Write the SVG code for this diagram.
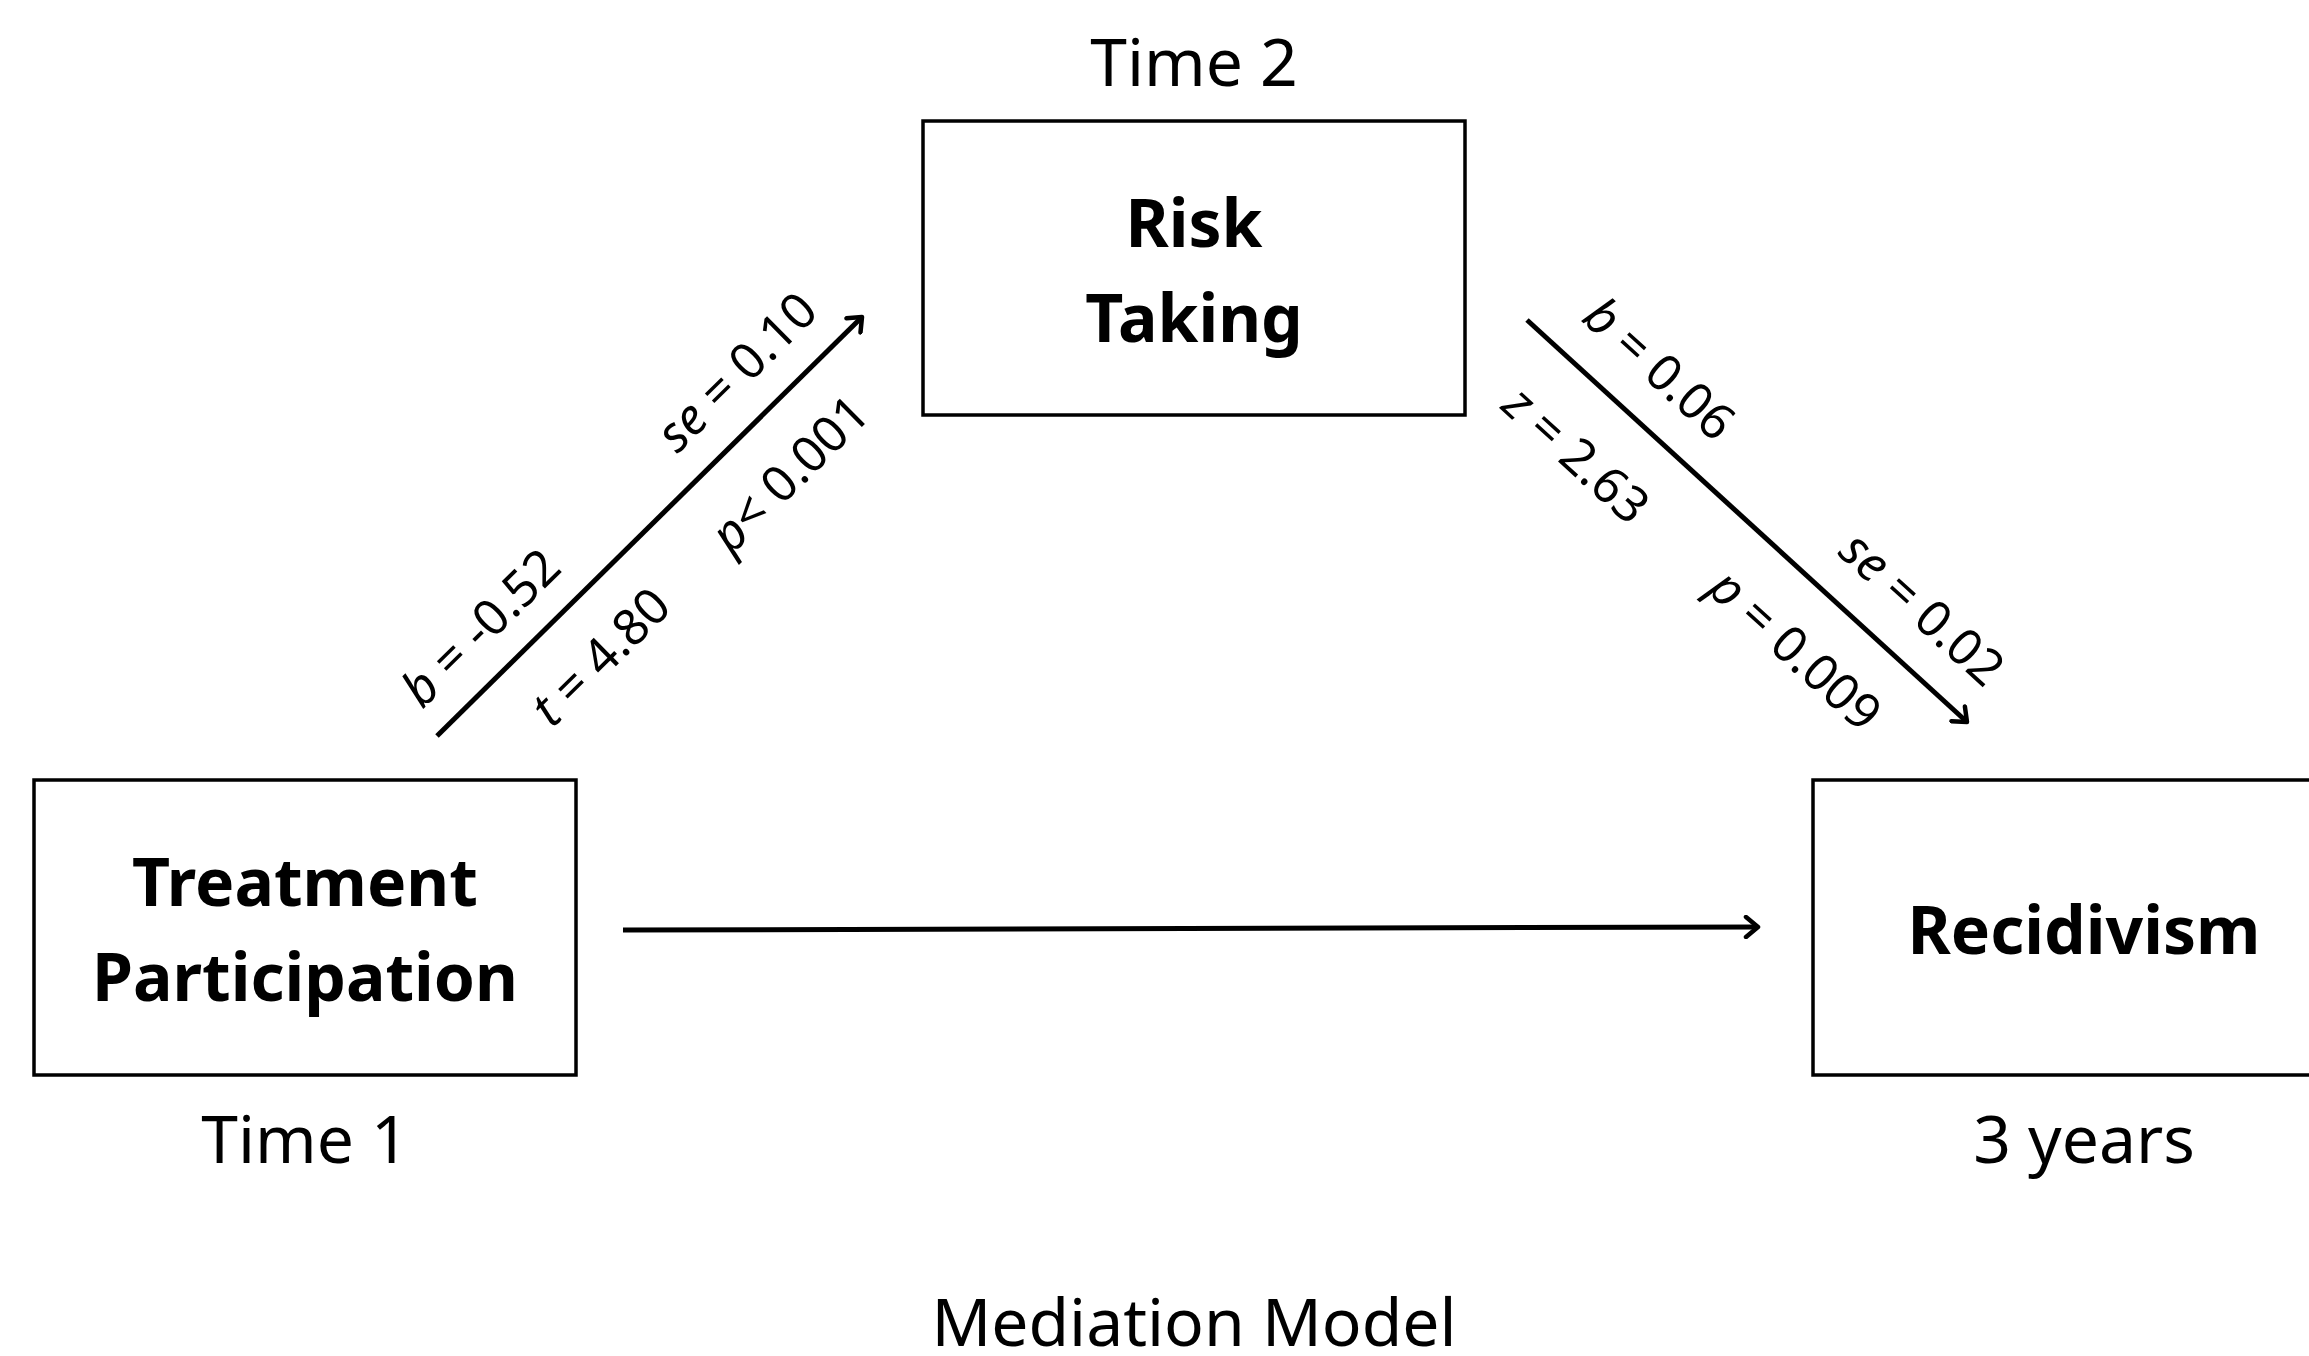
<svg xmlns="http://www.w3.org/2000/svg" width="2309" height="1356" viewBox="0 0 2309 1356">
<defs>
<style>
.box{fill:#fff;stroke:#000;stroke-width:3.5}
.title{font-family:"Noto Sans","Open Sans",sans-serif;font-weight:700;font-size:66px;text-anchor:middle;fill:#000}
.cap{font-family:"Noto Sans","Open Sans",sans-serif;font-size:66px;text-anchor:middle;fill:#000}
.lbl{font-family:"Noto Sans","Open Sans",sans-serif;font-size:50px;text-anchor:middle;fill:#000}
.conn{stroke:#000;stroke-width:5;fill:none}
</style>
<marker id="arr" markerWidth="24" markerHeight="24" refX="18" refY="12" orient="auto" markerUnits="userSpaceOnUse" viewBox="0 0 24 24">
<path d="M6,2 L18,12 L6,22" fill="none" stroke="#000" stroke-width="4.5" stroke-linecap="round" stroke-linejoin="round"/>
</marker>
</defs>
<rect width="2309" height="1356" fill="#fff"/>

<g id="connectors">
<line class="conn" x1="437" y1="736" x2="862" y2="317" marker-end="url(#arr)"/>
<line class="conn" x1="1527" y1="320" x2="1967" y2="722" marker-end="url(#arr)"/>
<line class="conn" x1="623" y1="930" x2="1758" y2="927" marker-end="url(#arr)"/>
</g>

<g id="labels-a">
<text class="lbl" transform="translate(481,628) rotate(-44.6)" dy="17"><tspan font-style="italic">b</tspan> = -0.52</text>
<text class="lbl" transform="translate(737,372) rotate(-44.6)" dy="17"><tspan font-style="italic">se</tspan> = 0.10</text>
<text class="lbl" transform="translate(601,657) rotate(-44.6)" dy="17"><tspan font-style="italic">t</tspan> = 4.80</text>
<text class="lbl" transform="translate(790,474) rotate(-44.6)" dy="17"><tspan font-style="italic">p</tspan>&lt; 0.001</text>
</g>
<g id="labels-b">
<text class="lbl" transform="translate(1659,369) rotate(42.4)" dy="17"><tspan font-style="italic">b</tspan> = 0.06</text>
<text class="lbl" transform="translate(1576,455) rotate(42.4)" dy="17"><tspan font-style="italic">z</tspan> = 2.63</text>
<text class="lbl" transform="translate(1922,609) rotate(42.4)" dy="17"><tspan font-style="italic">se</tspan> = 0.02</text>
<text class="lbl" transform="translate(1795,650) rotate(42.4)" dy="17"><tspan font-style="italic">p</tspan> = 0.009</text>
</g>

<g id="risk-taking">
<text class="cap" x="1194" y="86">Time 2</text>
<rect class="box" x="923" y="121" width="542" height="294"/>
<text class="title" x="1194" y="247">Risk</text>
<text class="title" x="1194" y="342">Taking</text>
</g>

<g id="treatment-participation">
<rect class="box" x="34" y="780" width="542" height="295"/>
<text class="title" x="305" y="906">Treatment</text>
<text class="title" x="305" y="1001">Participation</text>
<text class="cap" x="305" y="1163">Time 1</text>
</g>

<g id="recidivism">
<rect class="box" x="1813" y="780" width="542" height="295"/>
<text class="title" x="2084" y="954">Recidivism</text>
<text class="cap" x="2084" y="1163">3 years</text>
</g>

<g id="caption">
<text class="cap" x="1194" y="1346" font-size="68">Mediation Model</text>
</g>
</svg>
